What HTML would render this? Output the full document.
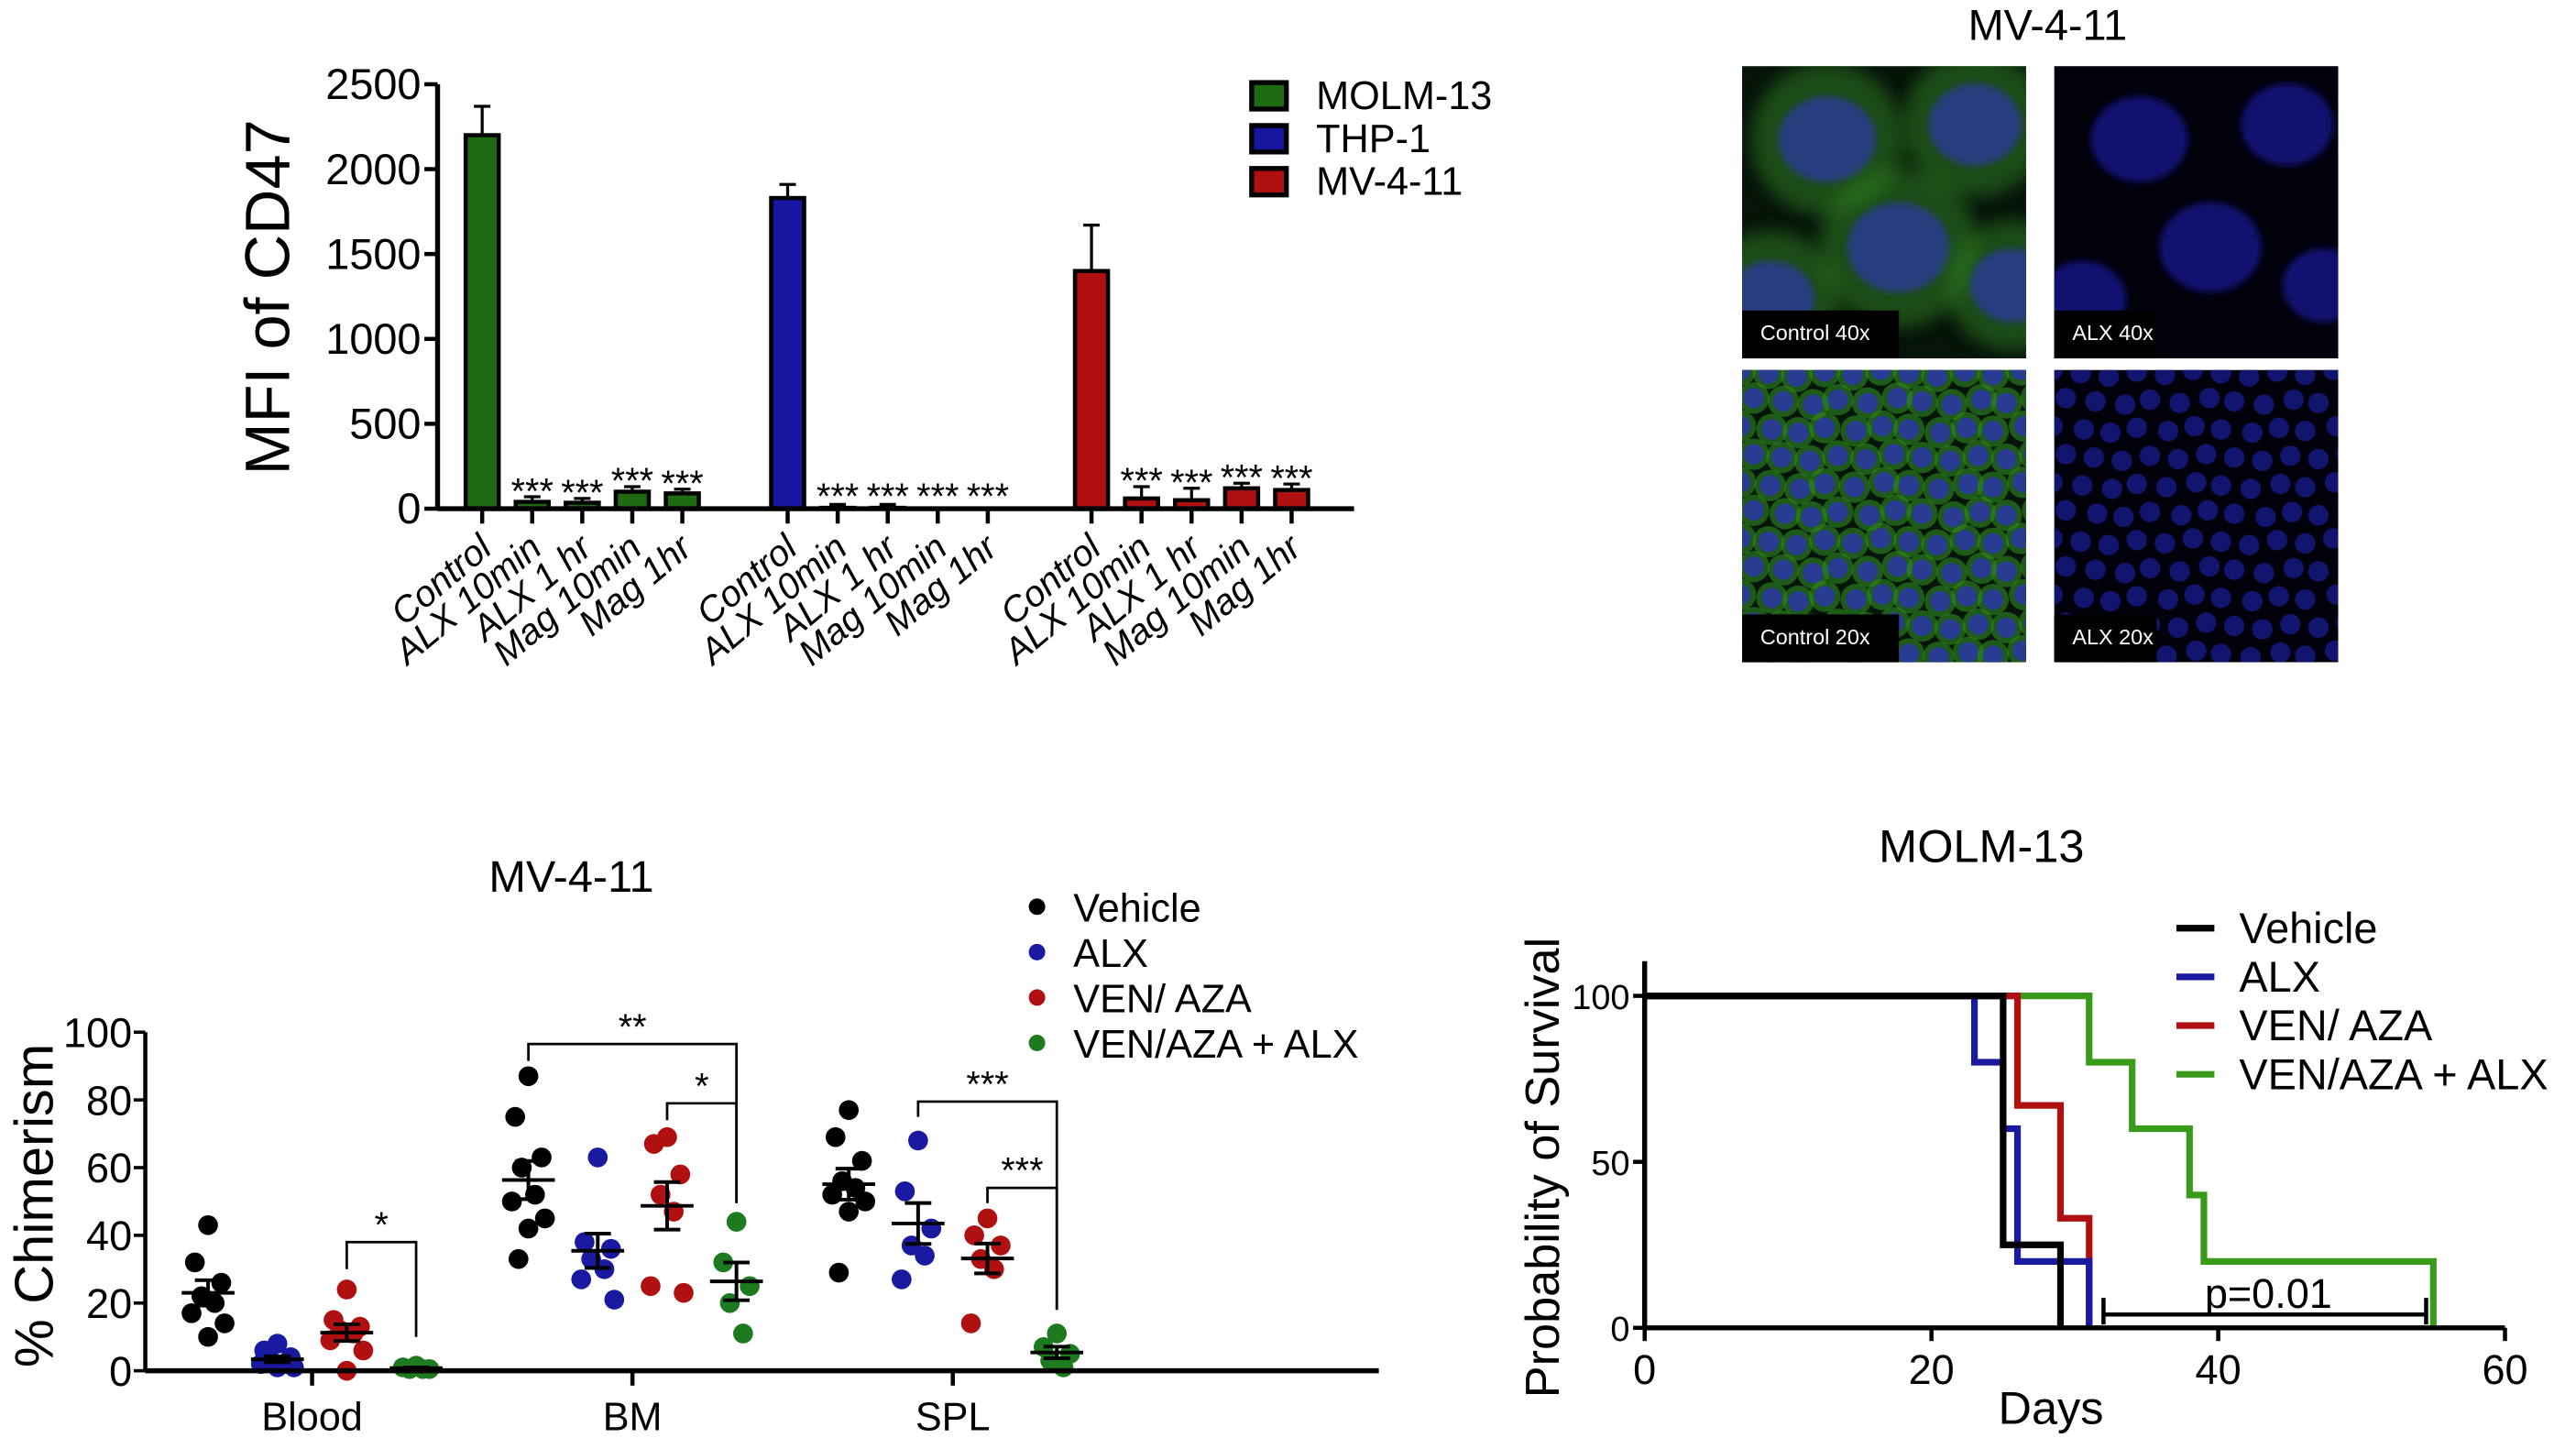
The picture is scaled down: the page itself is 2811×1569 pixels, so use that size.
<!DOCTYPE html>
<html><head><meta charset="utf-8"><style>
html,body{margin:0;padding:0;background:#fff}
svg{display:block}
text{font-family:"Liberation Sans",sans-serif;fill:#000}
.n{font-family:"Liberation Sans Narrow","Liberation Sans",sans-serif}
</style></head><body>
<svg id="fig" width="2811" height="1569" viewBox="0 0 1560 870.7" xmlns="http://www.w3.org/2000/svg">
<defs>
<filter id="bl" x="-50%" y="-50%" width="200%" height="200%"><feGaussianBlur stdDeviation="5"/></filter>
<filter id="bl2" x="-50%" y="-50%" width="200%" height="200%"><feGaussianBlur stdDeviation="2"/></filter>
</defs>
<g id="barChart"></g>
<g id="micro"></g>
<g id="dotChart"></g>
<g id="survChart"></g>
</svg>
<script>
// ---------- Bar chart data ----------
const barGroups = ["MOLM-13","THP-1","MV-4-11"];
const barCats = ["Control","ALX 10min","ALX 1 hr","Mag 10min","Mag 1hr"];
const molmVals = [2200,40,35,100,90];
const molmErr = [170,30,25,30,25];
const thpVals = [1830,5,5,0,0];
const thpErr = [80,20,20,0,0];
const mvVals = [1400,60,50,120,110];
const mvErr = [270,70,70,30,35];
const barYTicks = [0,500,1000,1500,2000,2500];

// ---------- Dot chart data ----------
const dotGroups = ["Blood","BM","SPL"];
const dotSeries = ["Vehicle","ALX","VEN/ AZA","VEN/AZA + ALX"];
const bloodVehicle=[43,32,26,22,20,17,14,10];
const bloodALX=[8,6,4,3,2,2,1,1];
const bloodVEN=[24,15,13,12,11,9,6,0];
const bloodCombo=[1.5,1,0.5,0.5,0.5];
const bmVehicle=[87,75,63,60,52,50,45,42,33];
const bmALX=[63,38,36,33,30,27,21];
const bmVEN=[69,67,58,52,47,25,23];
const bmCombo=[44,32,25,20,11];
const splVehicle=[77,69,62,56,54,52,50,47,29];
const splALX=[68,53,42,37,34,27];
const splVEN=[45,40,37,33,30,14];
const splCombo=[11,7,5,3,1];
const dotYTicks=[0,20,40,60,80,100];

// ---------- Survival data ----------
const survNames=["Vehicle","ALX","VEN/ AZA","VEN/AZA + ALX"];
const vehDays=[0,25,29]; const vehSurv=[100,25,0];
const alxDays=[0,23,25,26,31]; const alxSurv=[100,80,60,20,0];
const venDays=[0,26,29,31]; const venSurv=[100,67,33,0];
const comboDays=[0,31,34,38,39,55]; const comboSurv=[100,80,60,40,20,0];
const survXTicks=[0,20,40,60]; const survYTicks=[0,50,100];

const NS="http://www.w3.org/2000/svg";
function mk(parent,tag,attrs,txt){const e=document.createElementNS(NS,tag);for(const k in attrs)e.setAttribute(k,attrs[k]);if(txt!==undefined)e.textContent=txt;parent.appendChild(e);return e;}

// ================= BAR CHART =================
(function(){
const g=document.getElementById('barChart');
const x0=265,y0=308,yTop=51,xEnd=820;
const ys=v=>y0-(v/2500)*(y0-yTop);
const groupStart=[292,477,661], step=30.3, bw=20;
const colors=["#1e6b12","#1515a0","#b01010"];
const vals=[molmVals,thpVals,mvVals], errs=[molmErr,thpErr,mvErr];
vals.forEach((arr,gi)=>{arr.forEach((v,i)=>{
 const cx=groupStart[gi]+i*step;
 const b=mk(g,'rect',{x:cx-bw/2,y:ys(v),width:bw,height:y0-ys(v),fill:colors[gi],stroke:'#000','stroke-width':2.5});
 
 
 if(errs[gi][i]>0){
  const e=mk(g,'path',{d:`M${cx},${ys(v)}V${ys(v+errs[gi][i])}M${cx-5},${ys(v+errs[gi][i])}H${cx+5}`,stroke:'#000','stroke-width':1.8,fill:'none'});
  
  
 }
 if(i>0){
  const top=ys(v+errs[gi][i]);
  const s=mk(g,'text',{x:cx,y:Math.min(top,y0-4)+4,'text-anchor':'middle','font-size':22,class:'n'},'***');
  
  
 }
 mk(g,'line',{x1:cx,x2:cx,y1:y0,y2:y0+9,stroke:'#000','stroke-width':2.5});
 const lb=mk(g,'text',{x:0,y:0,'text-anchor':'end','font-size':22,'font-style':'italic',transform:`translate(${cx+7},${y0+26}) rotate(-40)`},barCats[i]);
 
 
});});
mk(g,'line',{x1:x0,x2:xEnd,y1:y0,y2:y0,stroke:'#000','stroke-width':3});
mk(g,'line',{x1:x0,x2:x0,y1:yTop,y2:y0,stroke:'#000','stroke-width':3});
barYTicks.forEach(t=>{mk(g,'line',{x1:x0-8,x2:x0,y1:ys(t),y2:ys(t),stroke:'#000','stroke-width':2.5});
 const l=mk(g,'text',{x:x0-10,y:ys(t)+9,'text-anchor':'end','font-size':26,class:'n'},t);
 
 });
const yt=mk(g,'text',{x:0,y:0,'text-anchor':'middle','font-size':38,transform:'translate(175,180) rotate(-90)'},'MFI of CD47');


barGroups.forEach((n,i)=>{
 mk(g,'rect',{x:758,y:50+i*26,width:21,height:16,fill:colors[i],stroke:'#000','stroke-width':3});
 const t=mk(g,'text',{x:797,y:66+i*26,'font-size':24,class:'n'},n);
 
 
});
})();

// ================= MICROSCOPY =================
(function(){
const g=document.getElementById('micro');
const t=mk(g,'text',{x:1240,y:24,'text-anchor':'middle','font-size':26,class:'n'},'MV-4-11');


const panels=[[1055,40,'Control 40x',true,true],[1244,40,'ALX 40x',false,true],[1055,224,'Control 20x',true,false],[1244,224,'ALX 20x',false,false]];
panels.forEach((p,pi)=>{
 const [x,y,lab,green,big]=p, w=172, h=177;
 const pg=mk(g,'g',{});
 
 
 const cid='clip'+pi;
 const cp=mk(document.querySelector('defs'),'clipPath',{id:cid});mk(cp,'rect',{x:x,y:y,width:w,height:h});
 const inner=mk(pg,'g',{'clip-path':`url(#${cid})`});
 mk(inner,'rect',{x:x,y:y,width:w,height:h,fill:green?'#06140a':'#01010c'});
 if(big){
  const cells=[[0.3,0.25,42],[0.82,0.2,40],[0.55,0.62,44],[0.1,0.8,38],[0.95,0.75,36]];
  cells.forEach(c=>{
   if(green) mk(inner,'circle',{cx:x+c[0]*w,cy:y+c[1]*h,r:c[2]*1.1,fill:'#2e7a22',opacity:0.55,filter:'url(#bl)'});
   mk(inner,'ellipse',{cx:x+c[0]*w,cy:y+c[1]*h,rx:c[2]*0.7,ry:c[2]*0.62,fill:green?'#2a3a9a':'#16168a',opacity:0.8,filter:'url(#bl2)'});
  });
 } else {
  for(let r=0;r<11;r++)for(let c=0;c<11;c++){
   const cx=x+c*17+(r%2)*8+((r*c)%3)-1, cy=y+r*17+((c*7)%5);
   if(green) mk(inner,'circle',{cx:cx,cy:cy,r:9.5,fill:'#2e8a22',opacity:0.6});
   mk(inner,'circle',{cx:cx,cy:cy,r:6.2,fill:green?'#2a38a0':'#1a1e98',opacity:green?0.9:0.7});
  }
 }
 mk(pg,'rect',{x:x,y:y+h-29,width:lab.startsWith('Control')?95:62,height:29,fill:'#000'});
 mk(pg,'text',{x:x+11,y:y+h-11,'font-size':13,style:'fill:#fff'},lab);
});
})();

// ================= DOT CHART =================
(function(){
const g=document.getElementById('dotChart');
const x0=88,y0=830,yTop=625,xEnd=835;
const ys=v=>y0-(v/100)*(y0-yTop);
const groupX=[189,383,577], offs=[-63,-21,21,63];
const cols=["#000","#1a1aa0","#b01010","#1e7a1e"];
const data=[[bloodVehicle,bloodALX,bloodVEN,bloodCombo],[bmVehicle,bmALX,bmVEN,bmCombo],[splVehicle,splALX,splVEN,splCombo]];
const jit=[0,-8,8,-4,4,-10,10,0,-6];
data.forEach((grp,gi)=>{grp.forEach((arr,si)=>{
 const cx=groupX[gi]+offs[si];
 arr.forEach((v,k)=>{
  const d=mk(g,'circle',{cx:cx+jit[k%jit.length],cy:ys(v),r:6,fill:cols[si]});
  
  
 });
 const m=arr.reduce((a,b)=>a+b,0)/arr.length;
 const sd=Math.sqrt(arr.reduce((a,b)=>a+(b-m)*(b-m),0)/(arr.length-1));
 const se=sd/Math.sqrt(arr.length);
 const e=mk(g,'path',{d:`M${cx-16},${ys(m)}H${cx+16}M${cx},${ys(m-se)}V${ys(m+se)}M${cx-8},${ys(m-se)}H${cx+8}M${cx-8},${ys(m+se)}H${cx+8}`,stroke:'#000','stroke-width':2.2,fill:'none'});
 
 
});
 mk(g,'line',{x1:groupX[gi],x2:groupX[gi],y1:y0,y2:y0+9,stroke:'#000','stroke-width':2.5});
 const l=mk(g,'text',{x:groupX[gi],y:y0+36,'text-anchor':'middle','font-size':24,class:'n'},dotGroups[gi]);
 
 
});
mk(g,'line',{x1:x0,x2:xEnd,y1:y0,y2:y0,stroke:'#000','stroke-width':3});
mk(g,'line',{x1:x0,x2:x0,y1:yTop,y2:y0,stroke:'#000','stroke-width':2.5});
dotYTicks.forEach(t=>{mk(g,'line',{x1:x0-7,x2:x0,y1:ys(t),y2:ys(t),stroke:'#000','stroke-width':2});
 const l=mk(g,'text',{x:x0-8,y:ys(t)+9,'text-anchor':'end','font-size':25,class:'n'},t);
 
 });
const br=[[0,2,3,38,30,10,'*'],[1,0,3,96.5,91.5,49.5,'**'],[1,2,3,79,74,49.5,'*'],[2,1,3,79.5,75,18,'***'],[2,2,3,54,49.5,18,'***']];
br.forEach(b=>{const xl=groupX[b[0]]+offs[b[1]],xr=groupX[b[0]]+offs[b[2]];
 const p=mk(g,'path',{d:`M${xl},${ys(b[4])}V${ys(b[3])}H${xr}V${ys(b[5])}`,stroke:'#000','stroke-width':1.5,fill:'none'});
 
 
 mk(g,'text',{x:(xl+xr)/2,y:ys(b[3])-3,'text-anchor':'middle','font-size':22,class:'n'},b[6]);
});
const tt=mk(g,'text',{x:346,y:540,'text-anchor':'middle','font-size':27,class:'n'},'MV-4-11');


const yt=mk(g,'text',{x:0,y:0,'text-anchor':'middle','font-size':33,transform:'translate(32,730) rotate(-90)'},'% Chimerism');


dotSeries.forEach((n,i)=>{mk(g,'circle',{cx:628,cy:549+i*27.5,r:5,fill:cols[i]});
 const t=mk(g,'text',{x:650,y:558+i*27.5,'font-size':24,class:'n'},n);
 
 });
})();

// ================= SURVIVAL =================
(function(){
const g=document.getElementById('survChart');
const x0=996,x1=1517,y0=804,y100=603;
const xs=d=>x0+(d/60)*(x1-x0), ys=v=>y0-(v/100)*(y0-y100);
const cols=["#000","#1a1aa0","#b01010","#3a9a1a"];
const days=[vehDays,alxDays,venDays,comboDays], surv=[vehSurv,alxSurv,venSurv,comboSurv];
[3,2,1,0].forEach(si=>{
 const D=days[si],S=surv[si];let d=`M${xs(D[0])},${ys(S[0])}`;
 for(let i=1;i<D.length;i++){d+=`H${xs(D[i])}V${ys(S[i])}`;}
 const p=mk(g,'path',{d:d,stroke:cols[si],'stroke-width':4,fill:'none'});
 
 
});
mk(g,'line',{x1:x0,x2:x1,y1:y0,y2:y0,stroke:'#000','stroke-width':3});
mk(g,'line',{x1:x0,x2:x0,y1:582,y2:y0,stroke:'#000','stroke-width':3});
survXTicks.forEach(t=>{mk(g,'line',{x1:xs(t),x2:xs(t),y1:y0,y2:y0+8,stroke:'#000','stroke-width':2.5});
 const l=mk(g,'text',{x:xs(t),y:y0+34,'text-anchor':'middle','font-size':25,class:'n'},t);
 
 });
survYTicks.forEach(t=>{mk(g,'line',{x1:x0-7,x2:x0,y1:ys(t),y2:ys(t),stroke:'#000','stroke-width':2.5});
 const l=mk(g,'text',{x:x0-9,y:ys(t)+8,'text-anchor':'end','font-size':21,class:'n'},t);
 
 });
const pb=mk(g,'path',{d:`M${xs(32)},${ys(9)}V${ys(1)}M${xs(32)},${ys(4)}H${xs(54.5)}M${xs(54.5)},${ys(9)}V${ys(1)}`,stroke:'#000','stroke-width':2.5,fill:'none'});


mk(g,'text',{x:xs(43.5),y:ys(6),'text-anchor':'middle','font-size':25,class:'n'},'p=0.01');
const tt=mk(g,'text',{x:1200,y:522,'text-anchor':'middle','font-size':28,class:'n'},'MOLM-13');


const xt=mk(g,'text',{x:1242,y:862,'text-anchor':'middle','font-size':28,class:'n'},'Days');


const yt=mk(g,'text',{x:0,y:0,'text-anchor':'middle','font-size':29,transform:'translate(944,707) rotate(-90)'},'Probability of Survival');


survNames.forEach((n,i)=>{mk(g,'line',{x1:1318,x2:1341,y1:562+i*29.5,y2:562+i*29.5,stroke:cols[i],'stroke-width':4});
 const t=mk(g,'text',{x:1356,y:571+i*29.5,'font-size':26,class:'n'},n);
 
 });
})();
</script>
</body></html>
